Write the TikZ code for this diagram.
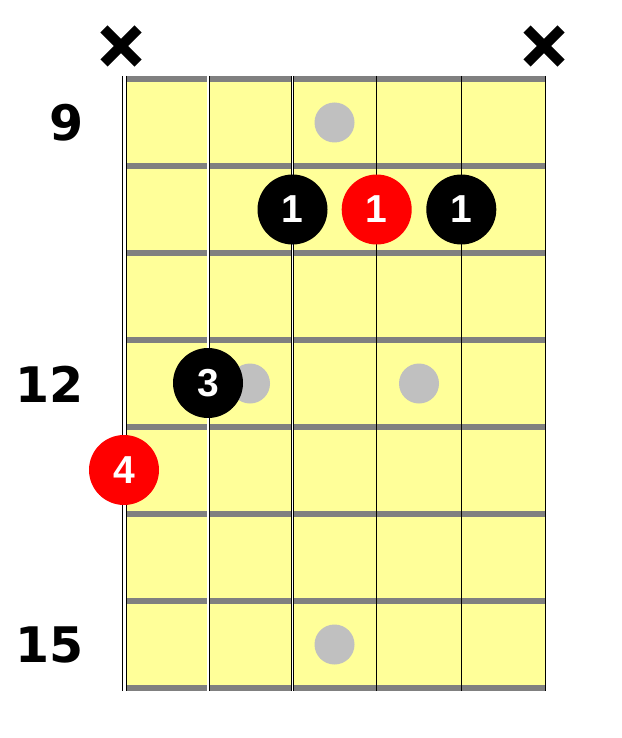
\documentclass[tikz,border=0pt]{standalone}
\usepackage{fontspec}
\usepackage{tikz}
\usetikzlibrary{calc}
\newfontfamily\fingerfont{Liberation Sans}
\newfontfamily\fretfont{DejaVu Sans}
\definecolor{boardyellow}{RGB}{255,255,153}
\definecolor{fretgray}{RGB}{128,128,128}
\definecolor{inlaygray}{RGB}{192,192,192}
\tikzset{
  fretbar/.style={fretgray, line width=5.5pt},
  wound/.style={draw=black, double=white},
  bare/.style={black, line width=1.1pt},
  inlay/.style={circle, fill=inlaygray, minimum size=40pt, inner sep=0pt},
  finger/.style={circle, fill=black, minimum size=70pt, inner sep=0pt, text=white,
    font=\fingerfont\bfseries\fontsize{39}{39}\selectfont},
  root/.style={finger, fill=red},
  fretno/.style={anchor=east, inner sep=0pt, font=\fretfont\bfseries\fontsize{49}{49}\selectfont},
  mute/.style={black, line width=10pt}
}

\begin{document}
\begin{tikzpicture}[x=1pt,y=-1pt]
\useasboundingbox (0,0) rectangle (621,738);

% board and frets
\fill[boardyellow] (124,79) rectangle (545,688);
\draw[fretbar] (124,79) -- (545,79);
\draw[fretbar] (124,166) -- (545,166);
\draw[fretbar] (124,253) -- (545,253);
\draw[fretbar] (124,340) -- (545,340);
\draw[fretbar] (124,427) -- (545,427);
\draw[fretbar] (124,514) -- (545,514);
\draw[fretbar] (124,601) -- (545,601);
\draw[fretbar] (124,688) -- (545,688);

% strings
\draw[wound, line width=1pt, double distance=2.2pt] (124.5,76) -- (124.5,690.5);
\draw[wound, line width=0.8pt, double distance=1.4pt] (208,76) -- (208,690.5);
\draw[wound, line width=0.7pt, double distance=0.9pt] (292.5,76) -- (292.5,690.5);
\draw[bare] (376.7,76) -- (376.7,690.5);
\draw[bare] (461.3,76) -- (461.3,690.5);
\draw[bare] (545.5,76) -- (545.5,690.5);

% inlays
\node (dot9) at (334.5,122.5) [inlay] {};
\node (dot12a) at (250,383.5) [inlay] {};
\node (dot12b) at (419,383.5) [inlay] {};
\node (dot15) at (334.5,644.5) [inlay] {};

% fret numbers
\node (f9) at (84,123) [fretno] {9};
\node (f12) at (84,384.5) [fretno] {12};
\node (f15) at (84,645) [fretno] {15};

% fingers
\node (s3) at (292.5,209.5) [finger] {1};
\node (s4) at (376.7,209.5) [root] {1};
\node (s5) at (461.3,209.5) [finger] {1};
\node (s2) at (208,383) [finger] {3};
\node (s1) at (124,470) [root] {4};

% muted strings
\coordinate (m1) at (121,46);
\coordinate (m6) at (544,46);
\draw[mute, shift={(m1)}] (-17,-17) -- (17,17) (-17,17) -- (17,-17);
\draw[mute, shift={(m6)}] (-17,-17) -- (17,17) (-17,17) -- (17,-17);

\end{tikzpicture}
\end{document}
